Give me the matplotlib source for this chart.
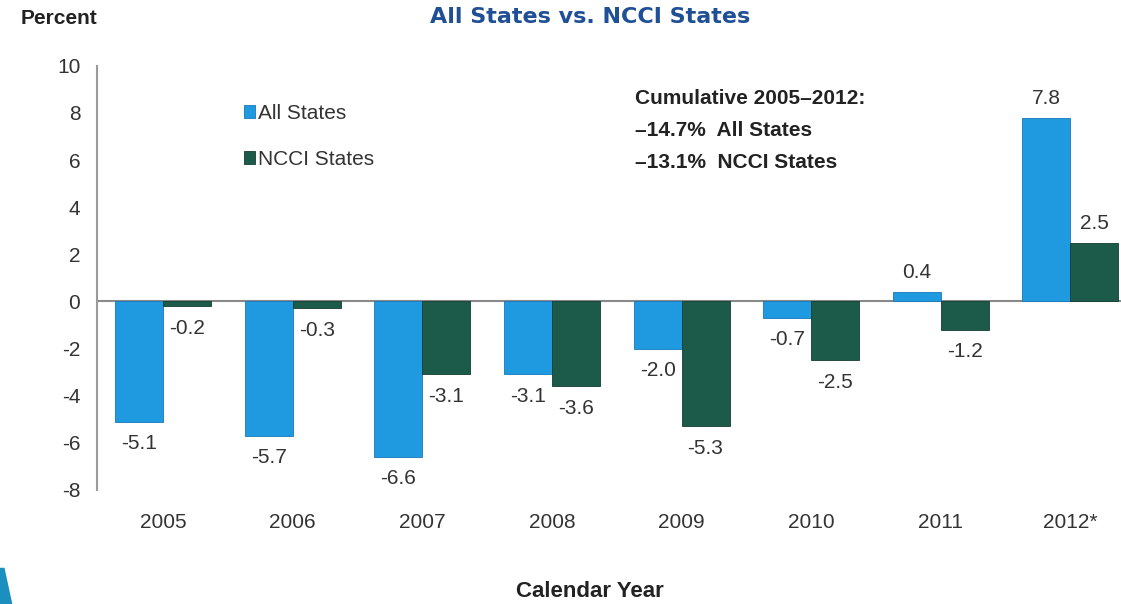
import numpy as np
import matplotlib
matplotlib.use("Agg")
import matplotlib.pyplot as plt
from matplotlib.patches import Polygon

years = ["2005", "2006", "2007", "2008", "2009", "2010", "2011", "2012*"]
all_states = [-5.1, -5.7, -6.6, -3.1, -2.0, -0.7, 0.4, 7.8]
ncci_states = [-0.2, -0.3, -3.1, -3.6, -5.3, -2.5, -1.2, 2.5]
yticks = [10, 8, 6, 4, 2, 0, -2, -4, -6, -8]

blue = "#1f9ae0"
green = "#1c5a4a"
txt = "#333333"

plt.rcParams['font.family'] = ['Liberation Sans', 'DejaVu Sans']
plt.rcParams['axes.unicode_minus'] = False

fig = plt.figure(figsize=(11.21, 6.04), dpi=100)
ax = fig.add_axes([0.0865, 0.189, 0.9135, 0.702])

x = np.arange(len(years))
w = 0.37
b1 = ax.bar(x - w / 2, all_states, w, color=blue, edgecolor="#1878b8", linewidth=0.6, label="All States")
b2 = ax.bar(x + w / 2, ncci_states, w, color=green, edgecolor="#123d32", linewidth=0.6, label="NCCI States")

for bars, vals in ((b1, all_states), (b2, ncci_states)):
    for r, v in zip(bars, vals):
        cx = r.get_x() + r.get_width() / 2
        off = 7 if v >= 0 else -9
        ax.annotate(f"{v:.1f}", (cx, v), xytext=(0, off), textcoords="offset points",
                    ha="center", va="bottom" if v >= 0 else "top", fontsize=15, color=txt)

ax.axhline(0, color="#8a8a8a", linewidth=1.5, zorder=0)
ax.set_xlim(-0.51, 7.39)
ax.set_ylim(-8, 10)
ax.set_yticks(yticks)
ax.set_xticks(x)
ax.set_xticklabels(years)
ax.tick_params(axis="y", length=0, pad=12, labelsize=15, labelcolor=txt)
ax.tick_params(axis="x", length=0, pad=17, labelsize=15, labelcolor=txt)
for s in ("top", "right", "bottom"):
    ax.spines[s].set_visible(False)
ax.spines["left"].set_color("#9a9a9a")
ax.spines["left"].set_linewidth(1.5)

leg = ax.legend(loc="upper left", bbox_to_anchor=(0.125, 0.955), frameon=False,
                fontsize=15, handlelength=0.55, handleheight=0.55, handletextpad=0.15,
                labelspacing=1.3, labelcolor=txt)

ax.text(0.525, 0.847, "Cumulative 2005\u20132012:\n\u201314.7%  All States\n\u201313.1%  NCCI States",
        transform=ax.transAxes, ha="left", va="center", fontsize=15, fontweight="bold",
        color="#222222", linespacing=1.85)

fig.text(0.018, 0.97, "Percent", ha="left", va="center", fontsize=15, fontweight="bold", color="#222222")
fig.text(0.526, 0.972, "All States vs. NCCI States", ha="center", va="center", fontsize=16,
         fontweight="bold", color="#1f4f95", family="DejaVu Sans")
fig.text(0.526, 0.02, "Calendar Year", ha="center", va="center", fontsize=16, fontweight="bold", color="#222222")

# decorative swoosh in lower left corner
fig.patches.append(Polygon([(0, 0.06), (0.004, 0.06), (0.011, 0.0), (0, 0.0)], closed=True,
                           transform=fig.transFigure, facecolor="#1b8fc0", edgecolor="none"))

fig.savefig("out.png", dpi=100)
